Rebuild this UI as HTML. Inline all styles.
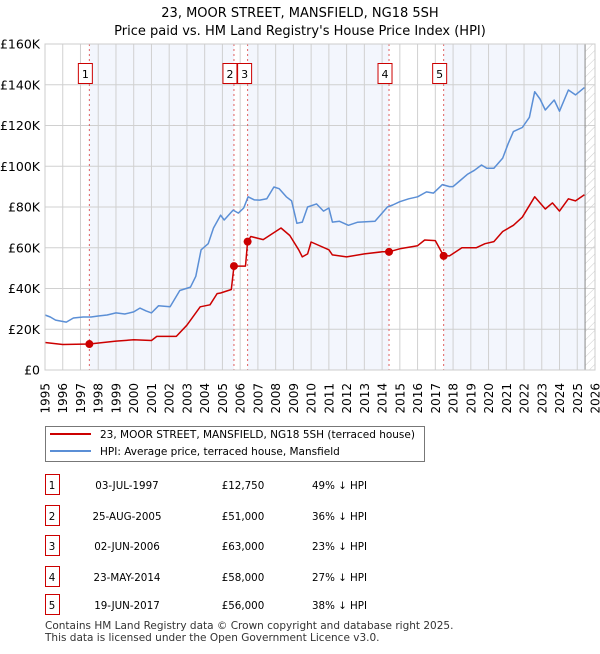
<!DOCTYPE html>
<html><head><meta charset="utf-8">
<style>
body{margin:0;background:#fff;font-family:"DejaVu Sans","Liberation Sans",sans-serif;}
svg text{font-family:"DejaVu Sans","Liberation Sans",sans-serif;}
</style></head>
<body>
<svg id="chart" width="600" height="650" xmlns="http://www.w3.org/2000/svg">
<text x="300" y="17" text-anchor="middle" font-size="13" fill="#000">23, MOOR STREET, MANSFIELD, NG18 5SH</text>
<text x="300" y="35" text-anchor="middle" font-size="13" fill="#000">Price paid vs. HM Land Registry's House Price Index (HPI)</text>
<defs><pattern id="hatch" width="6" height="6" patternUnits="userSpaceOnUse" patternTransform="rotate(45)"><line x1="0" y1="0" x2="0" y2="6" stroke="#ccc" stroke-width="1"/></pattern></defs>
<g id="plot"></g>
<g>
<rect x="45.5" y="426.5" width="379" height="35" fill="#fff" stroke="#777"/>
<line x1="50" y1="434" x2="91" y2="434" stroke="#cc0000" stroke-width="2"/>
<text x="100" y="438" font-size="10.5">23, MOOR STREET, MANSFIELD, NG18 5SH (terraced house)</text>
<line x1="50" y1="451" x2="91" y2="451" stroke="#5b8fd6" stroke-width="2"/>
<text x="100" y="455" font-size="10.5">HPI: Average price, terraced house, Mansfield</text>
</g>
<g id="table" font-size="10.3"></g>
<text x="45" y="629" font-size="10.5" fill="#333">Contains HM Land Registry data © Crown copyright and database right 2025.</text>
<text x="45" y="641" font-size="10.5" fill="#333">This data is licensed under the Open Government Licence v3.0.</text>
</svg>
<script>
const hpiYears=[1995,1995.3,1995.6,1996.2,1996.6,1997.15,1997.6,1998,1998.5,1999,1999.5,2000,2000.35,2000.7,2001,2001.4,2002.05,2002.6,2003.2,2003.5,2003.8,2004.2,2004.5,2004.9,2005.1,2005.6,2005.9,2006.2,2006.45,2006.8,2007.1,2007.5,2007.9,2008.2,2008.6,2008.9,2009.2,2009.5,2009.8,2010.3,2010.7,2011.0,2011.2,2011.6,2012.1,2012.6,2013.1,2013.6,2014.0,2014.3,2014.6,2015,2015.5,2016,2016.5,2016.9,2017.4,2017.8,2018.0,2018.4,2018.8,2019.2,2019.6,2019.9,2020.3,2020.8,2021.1,2021.4,2021.9,2022.3,2022.6,2022.9,2023.2,2023.7,2024.0,2024.5,2024.9,2025.4];
const hpiValues=[27,26,24.5,23.5,25.5,26,26,26.5,27,28,27.5,28.5,30.4,29,28,31.5,31,39,40.7,46,59,62,69.7,76,73.6,78.5,77,79.5,85,83.5,83.4,84,89.8,89,85,83,72,72.6,80,81.5,78,79.5,72.6,73,71,72.5,72.8,73,77,80,81,82.6,84,85,87.4,86.8,91,90,90,93,96,98,100.6,99,99,104,111,117,119,124,136.6,133,127.6,132.5,127,137.4,135,138.6];
const ppYears=[1995,1996,1997.5,1999,2000,2001,2001.3,2002.4,2003,2003.75,2004.3,2004.7,2004.9,2005.5,2005.65,2006.3,2006.42,2006.6,2007.3,2008.3,2008.8,2009.3,2009.5,2009.8,2010.0,2011,2011.2,2012,2013,2014,2014.39,2015,2016,2016.4,2017.0,2017.47,2017.8,2018.5,2019.3,2019.8,2020.3,2020.8,2021.4,2021.9,2022.6,2023.2,2023.6,2024.0,2024.5,2024.9,2025.4];
const ppValues=[13.5,12.5,12.75,14.2,14.8,14.5,16.5,16.5,22,31,32,37.5,37.8,39.5,51,51,63,65.5,64,69.7,66,59,55.5,57,62.8,59,56.5,55.5,57,58,58,59.5,61,63.8,63.5,56,56,60,60,62,63,68,71,75,85,79,82,78,84,83,86];
const saleYears=[1997.5,2005.65,2006.42,2014.39,2017.47];
const saleValues=[12.75,51,63,58,56];
const saleLabels=["1","2","3","4","5"];
const saleDates=["03-JUL-1997","25-AUG-2005","02-JUN-2006","23-MAY-2014","19-JUN-2017"];
const salePrices=["£12,750","£51,000","£63,000","£58,000","£56,000"];
const saleHpi=["49% ↓ HPI","36% ↓ HPI","23% ↓ HPI","27% ↓ HPI","38% ↓ HPI"];
const yTicks=[0,20,40,60,80,100,120,140,160];
const yTickLabels=["£0","£20K","£40K","£60K","£80K","£100K","£120K","£140K","£160K"];
const xStart=1995,xEnd=2026,dataEnd=2025.44;

const NS="http://www.w3.org/2000/svg";
const L=45,R=595,T=44,B=370;
const X=y=>L+(y-xStart)/(xEnd-xStart)*(R-L);
const Y=v=>B-v/160*(B-T);
const plot=document.getElementById('plot');
function mk(tag,attrs,parent){const e=document.createElementNS(NS,tag);for(const k in attrs)e.setAttribute(k,attrs[k]);(parent||plot).appendChild(e);return e;}

const bounds=[xStart].concat(saleYears,[dataEnd]);
for(let i=0;i<bounds.length-1;i++){
  if(i%2===1){const r=mk('rect',{x:X(bounds[i]),y:T,width:X(bounds[i+1])-X(bounds[i]),height:B-T,fill:'#f0f4fc','fill-opacity':0.8});
  
  }
}
const h=mk('rect',{x:X(dataEnd),y:T,width:R-X(dataEnd),height:B-T,fill:'url(#hatch)'});


for(let yr=xStart;yr<=xEnd;yr++){
  const g=mk('line',{x1:X(yr),x2:X(yr),y1:T,y2:B,stroke:'#d0d0d0','stroke-width':1});
  
  
  const t=mk('text',{x:0,y:0,transform:`translate(${X(yr)+4.5},${383}) rotate(-90)`,'text-anchor':'end','font-size':12});
  t.textContent=yr;
  
  
}
yTicks.forEach((v,i)=>{
  const g=mk('line',{x1:L,x2:R,y1:Y(v),y2:Y(v),stroke:'#d0d0d0','stroke-width':1});
  
  
  const t=mk('text',{x:L-5,y:Y(v)+4.5,'text-anchor':'end','font-size':12.5});
  t.textContent=yTickLabels[i];
  
  
});
const ed=mk('line',{x1:X(dataEnd),x2:X(dataEnd),y1:T,y2:B,stroke:'#888','stroke-width':1});


saleYears.forEach((s,i)=>{
  const l=mk('line',{x1:X(s),x2:X(s),y1:T,y2:B,stroke:'#e06060','stroke-width':1,'stroke-dasharray':'2,3'});
  
  
});
function path(xs,vs,color,name){
  const d=xs.map((x,i)=>(i?'L':'M')+X(x).toFixed(1)+','+Y(vs[i]).toFixed(1)).join('');
  const p=mk('path',{d:d,fill:'none',stroke:color,'stroke-width':1.5,'stroke-linejoin':'round'});
  
  
}
path(hpiYears,hpiValues,'#5b8fd6','hpi-line');
path(ppYears,ppValues,'#cc0000','price-paid-line');
saleYears.forEach((s,i)=>{
  const c=mk('circle',{cx:X(s),cy:Y(saleValues[i]),r:4,fill:'#cc0000'});
  
  
  const bx=X(s)-(i===2?3:4);
  const r=mk('rect',{x:bx-7,y:63.5,width:14,height:20,fill:'#fff',stroke:'#cc0000','stroke-width':1});
  
  
  const t=mk('text',{x:bx,y:78,'text-anchor':'middle','font-size':11});
  t.textContent=saleLabels[i];
  
  
});
const frame=mk('rect',{x:L,y:T,width:R-L,height:B-T,fill:'none',stroke:'#ccc'});


const tb=document.getElementById('table');
const rowY=[485,516,546,577,605];
saleLabels.forEach((lab,i)=>{
  const y=rowY[i];
  const r=mk('rect',{x:45.5,y:y-10.5,width:14,height:20,fill:'#fff',stroke:'#cc0000'},tb);
  
  
  const cells=[[52,lab,'middle'],[127,saleDates[i],'middle'],[243,salePrices[i],'middle'],[312,saleHpi[i],'start']];
  cells.forEach(c=>{
    const t=mk('text',{x:c[0],y:y+4,'text-anchor':c[2],'font-size':10.3},tb);
    t.textContent=c[1];
    
    
  });
});
</script>
</body></html>
